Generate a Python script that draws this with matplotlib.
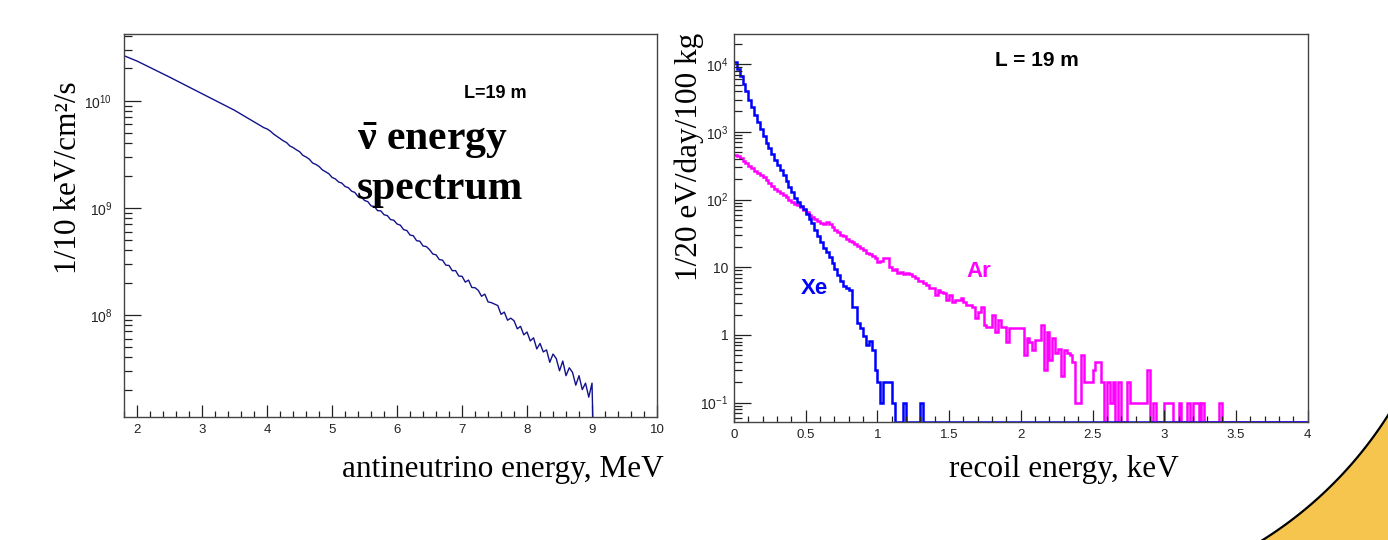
import numpy as np
import matplotlib
matplotlib.use('Agg')
import matplotlib.pyplot as plt
from matplotlib.ticker import FixedLocator, FixedFormatter, MultipleLocator, LogLocator, NullFormatter
from matplotlib.patches import Polygon

plt.rcParams['font.family'] = ['Liberation Sans', 'DejaVu Sans']
plt.rcParams['mathtext.fontset'] = 'custom'
plt.rcParams['mathtext.rm'] = 'Liberation Sans'
plt.rcParams['mathtext.it'] = 'Liberation Sans:italic'
plt.rcParams['mathtext.bf'] = 'Liberation Serif:bold'

# antineutrino flux, 0.05 MeV bins from 1.80 MeV, in units of 1e7 / 10 keV / cm^2 / s
nu_e_start = 1.80
nu_e_step = 0.05
nu_flux = [
    2630, 2556, 2483, 2413, 2344, 2265, 2188, 2113, 2042, 1972,
    1905, 1841, 1778, 1718, 1660, 1602, 1545, 1491, 1439, 1389,
    1340, 1293, 1247, 1204, 1161, 1121, 1081, 1043, 1007, 972,
    938, 905, 873, 843, 813, 780, 748, 718, 689, 661,
    634, 608, 583, 560, 545, 520, 488, 465, 443, 422,
    406, 378, 365, 348, 334, 309, 298, 284, 262, 254,
    243, 226, 217, 208, 192, 186, 174, 170, 158, 154,
    143, 139, 127, 126, 117, 114, 104, 103, 94, 93.5,
    86, 84.5, 77.5, 76.5, 70.5, 68.8, 62.5, 61.3, 55.6, 54.8,
    49.3, 48.7, 43.9, 43.4, 40.6, 37.0, 36.3, 32.8, 32.4, 29.1,
    28.9, 25.8, 25.9, 23.0, 22.9, 20.2, 21.1, 18.0, 17.9, 16.9,
    14.9, 15.6, 13.2, 13.0, 12.6, 12.2, 10.1, 10.6, 8.9, 9.3,
    8.8, 7.4, 7.8, 6.5, 6.9, 5.7, 6.1, 4.8, 5.4, 4.5,
    4.7, 3.6, 4.3, 3.9, 3.0, 3.7, 2.7, 3.2, 2.9, 2.2,
    2.7, 2.0, 2.3, 1.7, 2.3, 0,
]

# recoil spectra, 20 eV bins from 0 keV, per 20 eV / day / 100 kg
recoil_step = 0.02
recoil_max = 4.0
xe_rate = [
    10700, 8500, 6600, 5100, 4000, 3000, 2300, 1780, 1380, 1120,
    870, 690, 575, 468, 380, 324, 275, 229, 190, 155,
    129, 107, 93, 81, 72, 62, 52, 45, 36, 29,
    23.4, 19, 16.6, 14.1, 11.5, 9.3, 7.6, 6.2, 5.2, 4.9,
    4.6, 2.6, 2.6, 1.5, 1.26, 0.95, 0.72, 0.82, 0.6, 0.3,
    0.2, 0.1, 0.2, 0.2, 0.2, 0.1, 0, 0, 0, 0.1,
    0, 0, 0, 0, 0, 0.1,
]
ar_rate = [
    457, 437, 405, 372, 347, 316, 295, 268, 251, 234,
    214, 195, 174, 158, 145, 135, 126, 117, 110, 100,
    91, 87, 83, 78, 71, 65, 60, 56, 52, 48,
    45, 43, 46, 44, 39, 35.5, 33, 30, 29, 26,
    24.5, 23.4, 22.4, 20.4, 19, 18, 16.2, 15.8, 14.8, 13.8,
    12, 12.5, 13.5, 13.5, 10.2, 9.1, 9.3, 8.3, 8.6, 7.9,
    8.1, 8.0, 7.5, 7.0, 6.2, 6.2, 5.8, 5.5, 4.9, 4.9,
    3.9, 4.6, 4.35, 4.1, 3.3, 3.9, 3.1, 3.3, 3.3, 3.5,
    3.1, 2.8, 2.8, 2.55, 1.76, 2.2, 2.55, 1.4, 1.32, 1.32,
    1.97, 1.12, 1.66, 1.32, 1.32, 0.8, 1.25, 1.25, 1.25, 1.25,
    1.25, 0.5, 0.89, 0.8, 0.6, 0.84, 0.84, 1.4, 0.3, 1.12,
    0.43, 0.89, 0.54,
    0.63, 0.25, 0.6, 0.55, 0.5, 0.4, 0.1, 0.1, 0.5, 0.2,
    0.2, 0.2, 0.3, 0.4, 0.4, 0.2, 0, 0.2, 0.1, 0.2,
    0, 0.2, 0, 0, 0.2, 0.1, 0.1, 0.1, 0.1, 0.1,
    0.1, 0.3, 0, 0.1, 0, 0, 0, 0.1, 0.1, 0.1,
    0, 0, 0.1, 0, 0, 0.1, 0, 0.1, 0.1, 0,
    0.1, 0, 0, 0, 0, 0, 0.1,
]

nu_ylim = (1.11e7, 4.2e10)
recoil_ylim = (0.0513, 2.79e4)

fig = plt.figure(figsize=(13.88, 5.40), dpi=100)

# decorative slide corner
cx, cy, r = 1049, 200, 401.6
th = np.radians(np.linspace(62, 25, 80))
pts = [((cx + r * np.cos(t)) / 1388, 1 - (cy + r * np.sin(t)) / 540) for t in th]
pts += [(1.05, -0.05)]
fig.patches.append(Polygon(pts, closed=True, transform=fig.transFigure, facecolor='#f6c54e',
                           edgecolor='black', lw=1.6, zorder=0))

frame_col = '#444444'
tick_col = '#222222'


def style_axes(ax):
    for s in ax.spines.values():
        s.set_color(frame_col)
        s.set_linewidth(1.0)
    ax.tick_params(which='both', direction='in', top=False, right=False, colors=tick_col)
    ax.tick_params(axis='y', which='major', length=12, width=0.9)
    ax.tick_params(axis='y', which='minor', length=6, width=0.9)
    ax.tick_params(axis='x', which='major', length=9, width=0.9)
    ax.tick_params(axis='x', which='minor', length=4.5, width=0.9)


# ---- left: antineutrino spectrum ----
ax1 = fig.add_axes([123.5 / 1388, 123 / 540, 533.5 / 1388, 383 / 540])
style_axes(ax1)
flux = np.array(nu_flux) * 1e7
flux = np.where(flux > 0, flux, 1e6)
centers = nu_e_start + nu_e_step * np.arange(len(flux))
ax1.plot(centers, flux, color='#12128c', lw=1.0)
ax1.set_yscale('log')
ax1.set_xlim(1.79, 10.0)
ax1.set_ylim(*nu_ylim)
ax1.xaxis.set_major_locator(FixedLocator(range(2, 11)))
ax1.xaxis.set_minor_locator(MultipleLocator(0.2))
ax1.yaxis.set_major_locator(FixedLocator([1e8, 1e9, 1e10]))
ax1.yaxis.set_major_formatter(FixedFormatter([r'$\mathrm{10^{8}}$', r'$\mathrm{10^{9}}$', r'$\mathrm{10^{10}}$']))
ax1.yaxis.set_minor_locator(LogLocator(base=10, subs=np.arange(2, 10)))
ax1.yaxis.set_minor_formatter(NullFormatter())
ax1.tick_params(axis='x', labelsize=9.5, pad=5)
ax1.tick_params(axis='y', labelsize=10, pad=8)

fig.text(68 / 1388, 1 - 178 / 540, '1/10 keV/cm²/s', rotation=90, family='Liberation Serif',
         size=22.5, ha='center', va='center')
fig.text(503 / 1388, 1 - 470 / 540, 'antineutrino energy, MeV', family='Liberation Serif',
         size=22.5, ha='center', va='center')
fig.text(495 / 1388, 1 - 93 / 540, 'L=19 m', weight='bold', size=13, ha='center', va='center')
fig.text(357 / 1388, 1 - 150 / 540, r'$\mathbf{\bar{\nu}}$ energy', family='Liberation Serif',
         weight='bold', size=30, ha='left', va='baseline')
fig.text(357 / 1388, 1 - 199 / 540, 'spectrum', family='Liberation Serif',
         weight='bold', size=30, ha='left', va='baseline')

# ---- right: recoil spectra ----
ax2 = fig.add_axes([734 / 1388, (540 - 422.3) / 540, 573.6 / 1388, 388.3 / 540])
style_axes(ax2)
n_bins = int(round(recoil_max / recoil_step))
r_edges = recoil_step * np.arange(n_bins + 1)
floor = recoil_ylim[0]
for rate, col in [(ar_rate, '#ff00ff'), (xe_rate, '#0000ff')]:
    v = np.concatenate([np.array(rate, dtype=float), np.zeros(n_bins - len(rate))])
    v = np.where(v > 0, v, floor)
    ax2.stairs(v, r_edges, baseline=None, color=col, lw=1.8)
ax2.set_yscale('log')
ax2.set_xlim(0, 4)
ax2.set_ylim(*recoil_ylim)
ax2.xaxis.set_major_locator(FixedLocator(np.arange(0, 4.01, 0.5)))
ax2.xaxis.set_major_formatter(FixedFormatter(['0', '0.5', '1', '1.5', '2', '2.5', '3', '3.5', '4']))
ax2.xaxis.set_minor_locator(MultipleLocator(0.1))
ax2.yaxis.set_major_locator(FixedLocator([0.1, 1, 10, 100, 1e3, 1e4]))
ax2.yaxis.set_major_formatter(FixedFormatter([r'$\mathrm{10^{-1}}$', '1', '10', r'$\mathrm{10^{2}}$',
                                              r'$\mathrm{10^{3}}$', r'$\mathrm{10^{4}}$']))
ax2.yaxis.set_minor_locator(LogLocator(base=10, subs=np.arange(2, 10)))
ax2.yaxis.set_minor_formatter(NullFormatter())
ax2.tick_params(axis='x', labelsize=9.5, pad=5)
ax2.tick_params(axis='y', labelsize=10, pad=4)

fig.text(689 / 1388, 1 - 157 / 540, '1/20 eV/day/100 kg', rotation=90, family='Liberation Serif',
         size=22.5, ha='center', va='center')
fig.text(1063.5 / 1388, 1 - 470 / 540, 'recoil energy, keV', family='Liberation Serif',
         size=22.5, ha='center', va='center')
fig.text(1037 / 1388, 1 - 60.5 / 540, 'L = 19 m', weight='bold', size=15, ha='center', va='center')
fig.text(814 / 1388, 1 - 289 / 540, 'Xe', weight='bold', size=16, color='#0000ff', ha='center', va='center')
fig.text(979 / 1388, 1 - 271.5 / 540, 'Ar', weight='bold', size=16, color='#ff00ff', ha='center', va='center')

fig.savefig('out.png', dpi=100)
